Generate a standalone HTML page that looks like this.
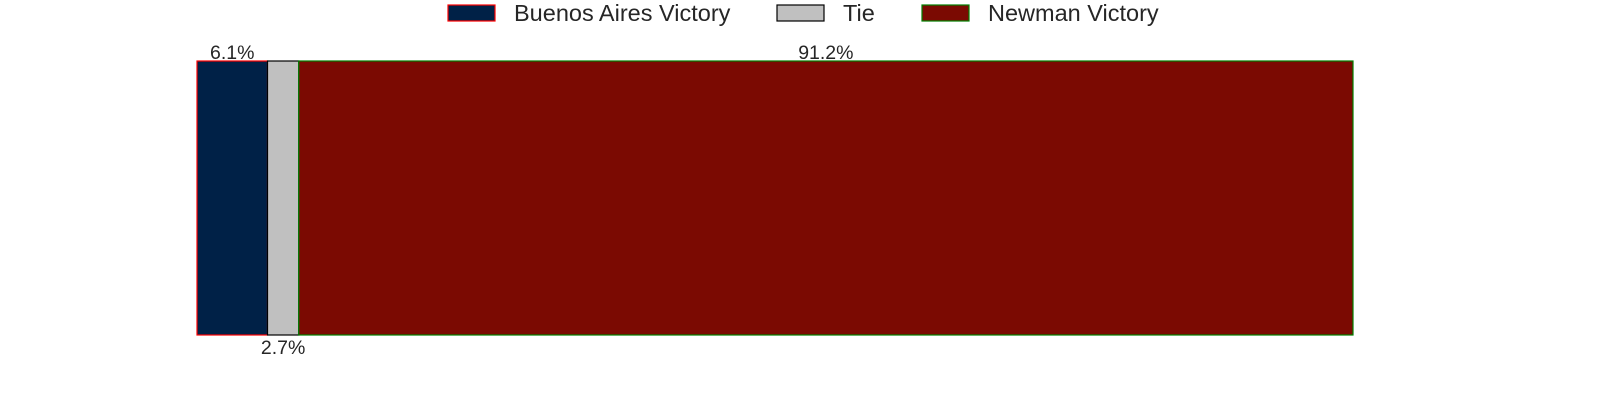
<!DOCTYPE html>
<html><head><meta charset="utf-8"><style>
html,body{margin:0;padding:0;background:#fff;width:1600px;height:400px;overflow:hidden}
text{font-family:"Liberation Sans",Arial,sans-serif;fill:#262626}
</style></head><body>
<svg id="chart" width="1600" height="400" viewBox="0 0 1600 400" xmlns="http://www.w3.org/2000/svg">
<g id="legend"></g>
<g id="bars"></g>
</svg>
<script>
const categories = ["Buenos Aires Victory", "Tie", "Newman Victory"];
const values = [6.1, 2.7, 91.2];
const labels = ["6.1%", "2.7%", "91.2%"];
const fills = ["#002147", "#c0c0c0", "#7b0a02"];
const strokes = ["#ff0000", "#000000", "#008000"];
const names = ["buenos-aires", "tie", "newman"];

const NS = "http://www.w3.org/2000/svg";
const x0 = 197, x1 = 1353, yTop = 61, yBot = 335;
const total = values.reduce((a, b) => a + b, 0);
const xScale = v => x0 + (v / total) * (x1 - x0);

const bars = document.getElementById("bars");
let cum = 0;
values.forEach((v, i) => {
  const xa = xScale(cum), xb = xScale(cum + v);
  const r = document.createElementNS(NS, "rect");
  r.setAttribute("x", xa); r.setAttribute("y", yTop);
  r.setAttribute("width", xb - xa); r.setAttribute("height", yBot - yTop);
  r.setAttribute("fill", fills[i]); r.setAttribute("stroke", strokes[i]); r.setAttribute("stroke-width", "1.2");
  
  
  bars.appendChild(r);
  const t = document.createElementNS(NS, "text");
  t.setAttribute("x", (xa + xb) / 2);
  t.setAttribute("y", i === 1 ? yBot + 19 : yTop - 2);
  t.setAttribute("text-anchor", "middle");
  t.setAttribute("font-size", "19.5");
  t.textContent = labels[i];
  
  
  bars.appendChild(t);
  cum += v;
});

const legend = document.getElementById("legend");
const lx = [448, 777, 922];
categories.forEach((c, i) => {
  const g = document.createElementNS(NS, "g");
  
  
  const r = document.createElementNS(NS, "rect");
  r.setAttribute("x", lx[i]); r.setAttribute("y", 5); r.setAttribute("width", 47); r.setAttribute("height", 16);
  r.setAttribute("fill", fills[i]); r.setAttribute("stroke", strokes[i]); r.setAttribute("stroke-width", "1.2");
  g.appendChild(r);
  const t = document.createElementNS(NS, "text");
  t.setAttribute("x", lx[i] + 66); t.setAttribute("y", 21);
  t.setAttribute("font-size", "23.5");
  t.textContent = c;
  g.appendChild(t);
  legend.appendChild(g);
});
</script>
</body></html>
